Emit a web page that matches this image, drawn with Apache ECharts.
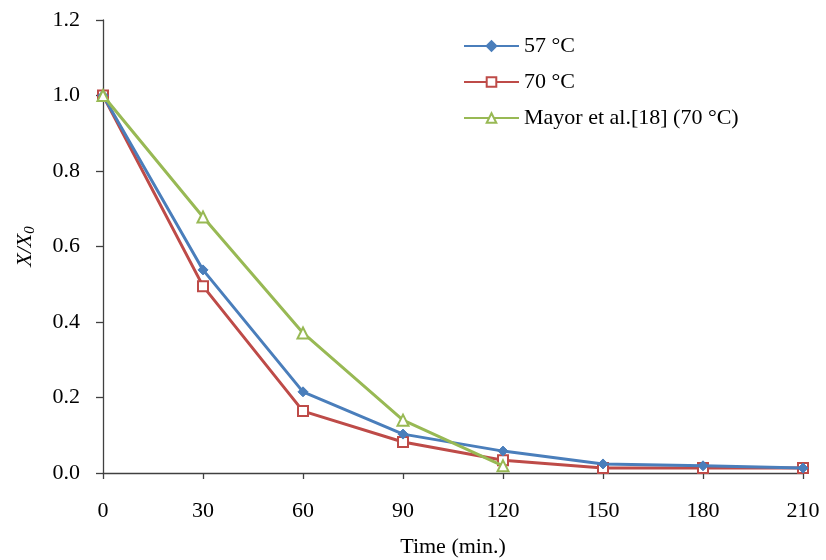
<!DOCTYPE html>
<html>
<head>
<meta charset="utf-8">
<script src="https://cdn.jsdelivr.net/npm/echarts@6/dist/echarts.min.js"></script>
<style>html,body{margin:0;padding:0;background:#fff;}#c{width:826px;height:560px;}</style>
</head>
<body>
<div id="c"></div>
<script>
const times = [0, 30, 60, 90, 120, 150, 180, 210];
const s57 = [1.0, 0.538, 0.215, 0.103, 0.058, 0.024, 0.019, 0.013];
const s70 = [1.0, 0.495, 0.164, 0.082, 0.034, 0.013, 0.013, 0.013];
const mayorTimes = [0, 30, 60, 90, 120];
const mayor = [1.0, 0.678, 0.371, 0.140, 0.019];
const seriesNames = ['57 \u00B0C', '70 \u00B0C', 'Mayor et al.[18] (70 \u00B0C)'];
const xTicks = { min: 0, max: 210, interval: 30 };
const yTicks = { min: 0, max: 1.2, interval: 0.2 };

const FONT = '"Liberation Serif", "Times New Roman", serif';
const pair = (xs, ys) => xs.map((x, i) => [x, ys[i]]);

const chart = echarts.init(document.getElementById('c'), null, { renderer: 'canvas' });
chart.setOption({
  animation: false,
  backgroundColor: '#ffffff',
  textStyle: { fontFamily: FONT, color: '#000' },
  grid: { left: 103, right: 23, top: 20, bottom: 87, containLabel: false, outerBoundsMode: 'none' },
  legend: {
    orient: 'vertical',
    left: 458,
    top: 30,
    itemWidth: 55,
    itemHeight: 12,
    itemGap: 14,
    textStyle: { fontFamily: FONT, fontSize: 22, color: '#000' },
    data: seriesNames
  },
  xAxis: {
    type: 'value',
    min: xTicks.min, max: xTicks.max, interval: xTicks.interval,
    name: 'Time (min.)',
    nameLocation: 'middle',
    nameGap: 63,
    nameTextStyle: { fontFamily: FONT, fontSize: 22, color: '#000' },
    axisLine: { show: true, lineStyle: { color: '#404040', width: 1.3 } },
    axisTick: { show: true, length: 6, inside: false, lineStyle: { color: '#404040', width: 1.3 } },
    axisLabel: { fontFamily: FONT, fontSize: 22, color: '#000', margin: 27 },
    splitLine: { show: false }
  },
  yAxis: {
    type: 'value',
    min: yTicks.min, max: yTicks.max, interval: yTicks.interval,
    name: '{i|X/X}{s|0}',
    nameLocation: 'middle',
    nameGap: 65,
    nameRotate: 90,
    nameTextStyle: {
      fontFamily: FONT, color: '#000',
      rich: {
        i: { fontFamily: FONT, fontSize: 22, fontStyle: 'italic', color: '#000' },
        s: { fontFamily: FONT, fontSize: 15, fontStyle: 'italic', color: '#000', padding: [10, 0, 0, 0] }
      }
    },
    axisLine: { show: true, lineStyle: { color: '#404040', width: 1.3 } },
    axisTick: { show: true, length: 7, inside: false, lineStyle: { color: '#404040', width: 1.3 } },
    axisLabel: { fontFamily: FONT, fontSize: 22, color: '#000', margin: 23,
      formatter: v => v.toFixed(1) },
    splitLine: { show: false }
  },
  series: [
    {
      name: seriesNames[0], type: 'line', data: pair(times, s57),
      symbol: 'diamond', symbolSize: 10,
      lineStyle: { color: '#4a7ebb', width: 3 },
      itemStyle: { color: '#4a7ebb', borderColor: '#4a7ebb', borderWidth: 1 },
      z: 3
    },
    {
      name: seriesNames[1], type: 'line', data: pair(times, s70),
      symbol: 'rect', symbolSize: 10,
      lineStyle: { color: '#be4b48', width: 3 },
      itemStyle: { color: '#ffffff', borderColor: '#be4b48', borderWidth: 2 },
      z: 2
    },
    {
      name: seriesNames[2], type: 'line', data: pair(mayorTimes, mayor),
      symbol: 'triangle', symbolSize: 11,
      lineStyle: { color: '#98b954', width: 3 },
      itemStyle: { color: '#ffffff', borderColor: '#98b954', borderWidth: 2 },
      z: 4
    }
  ]
});
</script>
</body>
</html>
